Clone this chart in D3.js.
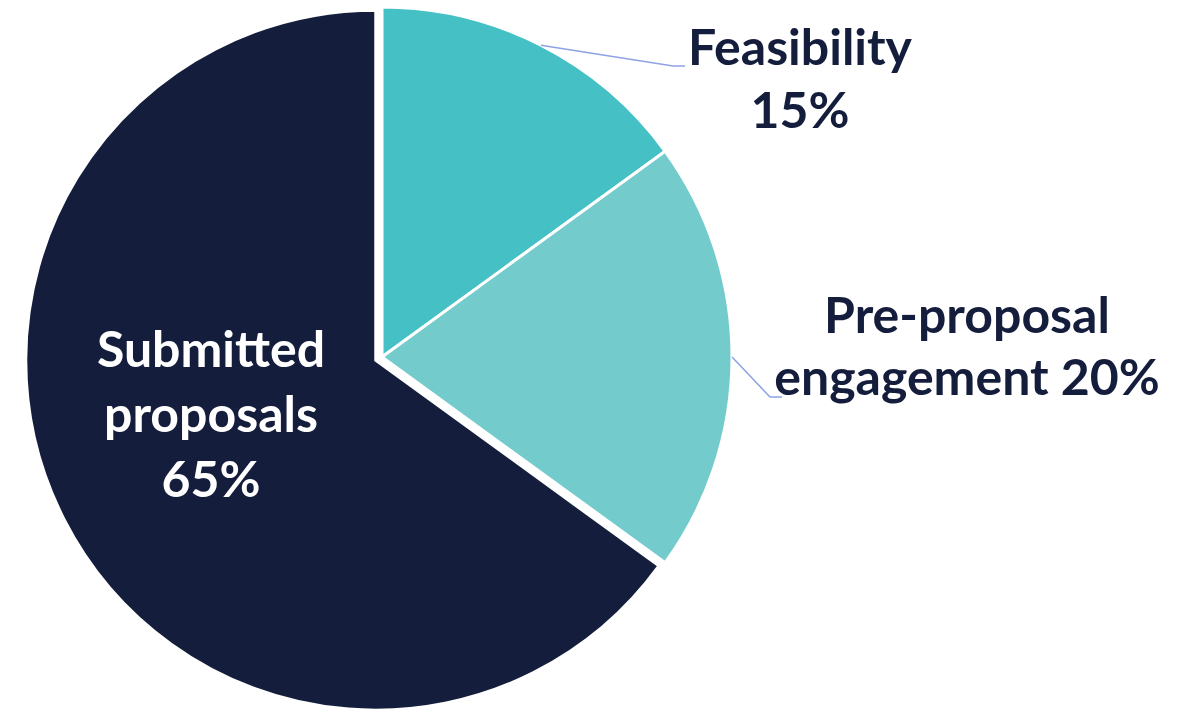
<!DOCTYPE html>
<html>
<head>
<meta charset="utf-8">
<script src="https://cdn.jsdelivr.net/npm/d3@7"></script>
<style>
    body { margin: 0; background: #ffffff; }
    svg text { font-family: Lato, "Open Sans", sans-serif; font-weight: bold; }
</style>
</head>
<body>
<svg id="pie-svg" width="1184" height="710"></svg>
<script>
// slice data
const categories = ["Feasibility", "Pre-proposal engagement", "Submitted proposals"];
const shares = [15, 20, 65];
const sliceColors = ["#45c1c5", "#74cbcc", "#141e3c"];
// label lines as shown in the chart
const labelLines = [
    ["Feasibility", "15%"],
    ["Pre-proposal", "engagement 20%"],
    ["Submitted", "proposals", "65%"]
];

const width = 1184, height = 710;
const cx = 382, cy = 357, radius = 350;

const svg = d3.select("#pie-svg");
const g = svg.append("g").attr("transform", `translate(${cx}, ${cy})`);

const pie = d3.pie().sort(null).value(d => d.value);
const arc = d3.arc().innerRadius(0).outerRadius(radius);

const data = categories.map((c, i) => ({name: c, value: shares[i], color: sliceColors[i], lines: labelLines[i]}));
const arcs = pie(data);

// the big slice is pulled out a little
const explode = [0, 0, 7];

g.selectAll("path.slice")
    .data(arcs)
    .enter()
    .append("path")
    .attr("class", "slice")
    .attr("d", arc)
    .attr("transform", (d, i) => {
        const mid = (d.startAngle + d.endAngle) / 2;
        return `translate(${Math.sin(mid) * explode[i]}, ${-Math.cos(mid) * explode[i]})`;
    })
    .style("fill", d => d.data.color)
    .style("stroke", "#ffffff")
    .style("stroke-width", 3)
    .style("stroke-linejoin", "miter");

// outside labels with leader lines
const fontSize = 50;
const outside = [
    {i: 0, tx: 800, ty: 65, lineH: 63, elbow: [673, 66], end: [685, 66]},
    {i: 1, tx: 967, ty: 333, lineH: 62, elbow: [770, 397], end: [782, 397]}
];

outside.forEach(o => {
    const a = arcs[o.i];
    // leader starts at the slice edge, middle angle
    const ang = (a.startAngle + a.endAngle) / 2;
    const sx = cx + Math.sin(ang) * radius;
    const sy = cy - Math.cos(ang) * radius;

    svg.append("polyline")
        .attr("points", [[sx, sy], o.elbow, o.end].map(p => p.join(",")).join(" "))
        .style("fill", "none")
        .style("stroke", "#8fa2e4")
        .style("stroke-width", 1.5);

    const t = svg.append("text")
        .attr("x", o.tx)
        .attr("y", o.ty)
        .attr("text-anchor", "middle")
        .style("font-size", fontSize + "px")
        .style("fill", "#141e3c");
    a.data.lines.forEach((ln, k) => {
        t.append("tspan").attr("x", o.tx).attr("y", o.ty + k * o.lineH).text(ln);
    });
});

// inside label for the big slice
const inner = svg.append("text")
    .attr("x", 211)
    .attr("y", 367)
    .attr("text-anchor", "middle")
    .style("font-size", fontSize + "px")
    .style("fill", "#ffffff");
arcs[2].data.lines.forEach((ln, k) => {
    inner.append("tspan").attr("x", 211).attr("y", 367 + k * 65).text(ln);
});
</script>
</body>
</html>
